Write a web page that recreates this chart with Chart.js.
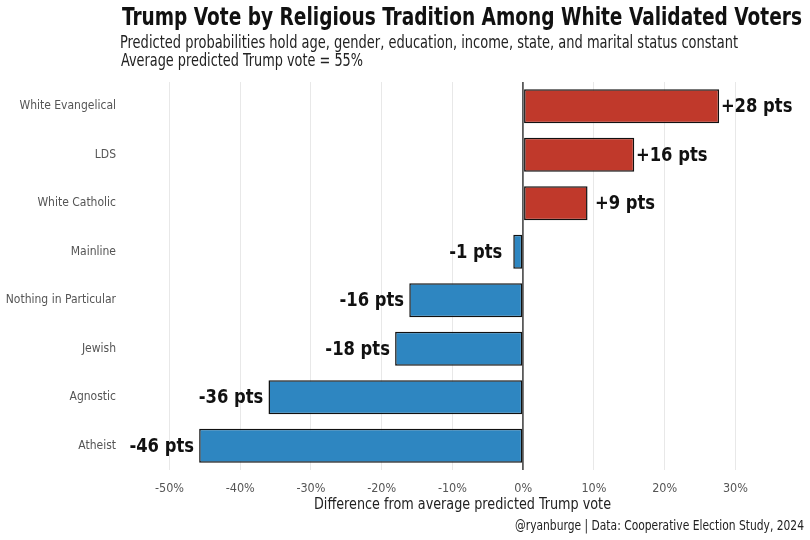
<!DOCTYPE html>
<html>
<head>
<meta charset="utf-8">
<script src="https://cdn.jsdelivr.net/npm/chart.js@4"></script>
<style>
  html, body { margin: 0; padding: 0; background: #fff; }
  #wrap { width: 810px; height: 540px; }
</style>
</head>
<body>
<div id="wrap"><canvas id="chart" width="810" height="540"></canvas></div>
<script>
// Data
const categories = ['White Evangelical', 'LDS', 'White Catholic', 'Mainline',
                    'Nothing in Particular', 'Jewish', 'Agnostic', 'Atheist'];
const diffs = [27.7, 15.7, 9.1, -1.4, -16.1, -18.1, -36.0, -45.8];
const xTicks = [-50, -40, -30, -20, -10, 0, 10, 20, 30];

const FONT = '"DejaVu Sans Condensed", "Liberation Sans Narrow", sans-serif';
const RED = '#c0392b';
const BLUE = '#2e86c1';

// draw text squeezed horizontally to a given width (the original uses a narrow font)
function squeezed(ctx, text, x, y, width, align) {
  const w = ctx.measureText(text).width;
  const k = width / w;
  ctx.save();
  ctx.textAlign = 'left';
  let left = x;
  if (align === 'right') left = x - width;
  if (align === 'center') left = x - width / 2;
  ctx.translate(left, y);
  ctx.scale(k, 1);
  ctx.fillText(text, 0, 0);
  ctx.restore();
}

// titles, subtitle, axis title and caption
const textPlugin = {
  id: 'texts',
  afterDraw(chart) {
    const ctx = chart.ctx;
    const area = chart.chartArea;
    ctx.save();
    ctx.textBaseline = 'middle';
    ctx.fillStyle = '#111';
    ctx.font = 'bold 25px ' + FONT;
    squeezed(ctx, 'Trump Vote by Religious Tradition Among White Validated Voters', 122, 18, 680, 'left');
    ctx.fillStyle = '#222';
    ctx.font = '17px ' + FONT;
    squeezed(ctx, 'Predicted probabilities hold age, gender, education, income, state, and marital status constant', 120, 44, 618, 'left');
    squeezed(ctx, 'Average predicted Trump vote = 55%', 121, 62, 242, 'left');
    ctx.font = '16px ' + FONT;
    squeezed(ctx, 'Difference from average predicted Trump vote', (area.left + area.right) / 2 + 3, 505, 297, 'center');
    ctx.font = '14px ' + FONT;
    squeezed(ctx, '@ryanburge | Data: Cooperative Election Study, 2024', 804, 526, 289, 'right');
    ctx.restore();
  }
};

// "+28 pts" style labels next to each bar
const valueLabels = {
  id: 'valueLabels',
  afterDatasetsDraw(chart) {
    const ctx = chart.ctx;
    const xs = chart.scales.x;
    const meta = chart.getDatasetMeta(0);
    ctx.save();
    ctx.font = 'bold 20px ' + FONT;
    ctx.fillStyle = '#111';
    ctx.textBaseline = 'middle';
    meta.data.forEach((bar, i) => {
      const v = diffs[i];
      const r = Math.round(v);
      const txt = (r > 0 ? '+' : '') + r + ' pts';
      const w = ctx.measureText(txt).width * 0.91;
      const x = xs.getPixelForValue(v + (v >= 0 ? 5.3 : -5.3));
      squeezed(ctx, txt, x, bar.y + 1, w, 'center');
    });
    ctx.restore();
  }
};

new Chart(document.getElementById('chart'), {
  type: 'bar',
  data: {
    labels: categories,
    datasets: [{
      data: diffs,
      backgroundColor: diffs.map(v => v >= 0 ? RED : BLUE),
      borderColor: '#111',
      borderWidth: 1.5,
      borderSkipped: false,
      barPercentage: 0.7,
      categoryPercentage: 1
    }]
  },
  options: {
    indexAxis: 'y',
    responsive: false,
    animation: false,
    layout: { padding: { top: 82, right: 18, bottom: 20, left: 0 } },
    plugins: {
      legend: { display: false },
      tooltip: { enabled: false }
    },
    scales: {
      x: {
        min: -56,
        max: 38,
        afterBuildTicks: s => { s.ticks = xTicks.map(v => ({ value: v })); },
        afterFit: s => { s.height = 50; },
        border: { display: false },
        grid: {
          drawTicks: false,
          color: c => c.tick && c.tick.value === 0 ? '#5a5a5a' : '#e8e8e8',
          lineWidth: c => c.tick && c.tick.value === 0 ? 1.8 : 1
        },
        ticks: {
          padding: 11,
          color: '#555',
          font: { family: FONT, size: 12.5 },
          callback: v => v + '%'
        }
      },
      y: {
        afterFit: s => { s.width = 127; },
        border: { display: false },
        grid: { display: false, drawTicks: false },
        ticks: {
          padding: 11,
          color: '#555',
          font: { family: FONT, size: 12 }
        }
      }
    }
  },
  plugins: [textPlugin, valueLabels]
});
</script>
</body>
</html>
